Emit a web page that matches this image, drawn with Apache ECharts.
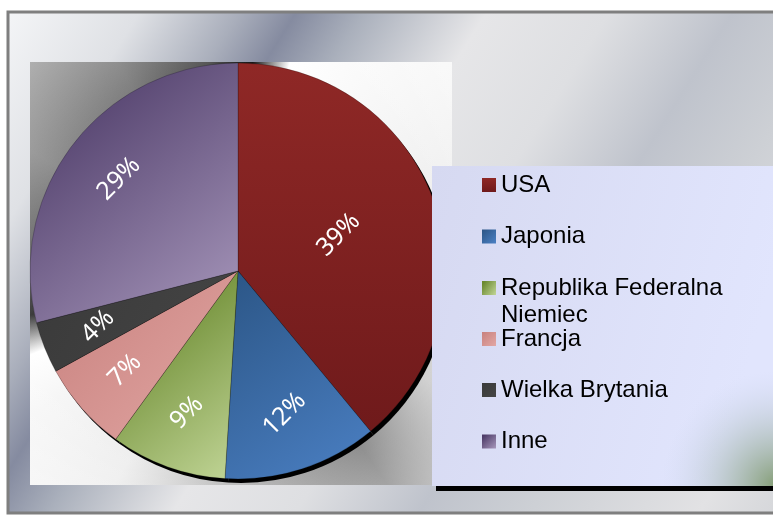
<!DOCTYPE html>
<html><head><meta charset="utf-8">
<script src="https://cdn.jsdelivr.net/npm/echarts@6/dist/echarts.min.js"></script>
<style>html,body{margin:0;padding:0;background:#fff}#c{width:773px;height:516px}</style>
</head><body><div id="c"></div>
<script>
// ---- data ----
const categories = ['USA', 'Japonia', 'Republika Federalna Niemiec', 'Francja', 'Wielka Brytania', 'Inne'];
const values = [39, 12, 9, 7, 4, 29];
const legendText = ['USA', 'Japonia', '\nRepublika Federalna\nNiemiec', 'Francja', 'Wielka Brytania', 'Inne'];

// ---- styles ----
const sliceColors = [
  ['#8f2826', '#6f1a1b', 0, 0, 0, 1],
  ['#2b5585', '#4b80c4', 0, 0, 1, 1],
  ['#6b8a30', '#c2d698', 0, 0.3, 1, 1],
  ['#c8817e', '#e2a7a4', 0, 0, 1, 1],
  ['#3a3a3a', '#454545', 0, 0, 1, 1],
  ['#4d3b68', '#a898bc', 0.1, 0.1, 1, 1]
];
function grad(c) {
  return new echarts.graphic.LinearGradient(c[2], c[3], c[4], c[5], [
    {offset: 0, color: c[0]}, {offset: 1, color: c[1]}]);
}
const legendCenters = [185, 236.5, 288, 339, 390, 441.5];

const cx = 238, cy = 271, R = 208;

// chrome-like background for plot area
function chromeCanvas() {
  const cv = document.createElement('canvas');
  cv.width = 773; cv.height = 516;
  const ctx = cv.getContext('2d');
  if (ctx.createConicGradient) {
    const g = ctx.createConicGradient(0, cx, cy);
    const st = [
      [0, '#e6e6e6'], [30, '#cfcfcf'], [55, '#8c8c8c'], [75, '#a8a8a8'], [95, '#c2c2c2'],
      [120, '#eeeeee'], [145, '#f6f6f6'], [158, '#ffffff'], [168, '#3a3a3a'], [180, '#6a6a6a'],
      [210, '#8e8e8e'], [240, '#7e7e7e'], [262, '#555555'], [274, '#151515'], [284, '#ffffff'],
      [315, '#f6f6f6'], [345, '#ededed'], [360, '#e6e6e6']
    ];
    st.forEach(s => g.addColorStop(s[0] / 360, s[1]));
    ctx.fillStyle = g;
  } else {
    ctx.fillStyle = '#c8c8c8';
  }
  ctx.fillRect(0, 0, 773, 516);
  const rg = ctx.createRadialGradient(cx, cy, R, cx, cy, R + 140);
  rg.addColorStop(0, 'rgba(255,255,255,0)');
  rg.addColorStop(1, 'rgba(255,255,255,0.55)');
  ctx.fillStyle = rg;
  ctx.fillRect(0, 0, 773, 516);
  return cv;
}

const chart = echarts.init(document.getElementById('c'), null, {renderer: 'canvas'});

const mainData = categories.map((n, i) => ({
  name: n, value: values[i],
  itemStyle: {color: grad(sliceColors[i])},
  label: {show: i === 0}
}));
const shadowData = categories.map((n, i) => ({name: n, value: values[i]}));
const labelData = categories.map((n, i) => ({
  name: n, value: values[i],
  label: {show: i !== 0}
}));

const labelStyle = {
  position: 'inside', rotate: 45, color: '#ffffff', fontSize: 25,
  fontFamily: 'Noto Sans', fontWeight: 'normal',
  formatter: p => p.value + '%'
};

const legends = categories.map((n, i) => ({
  data: [n],
  orient: 'vertical',
  left: 482,
  top: legendCenters[i] - (i === 2 ? 40.5 : 13.5),
  padding: 0,
  icon: 'rect',
  itemWidth: 14, itemHeight: 14,
  itemStyle: {borderWidth: 0},
  selectedMode: false,
  z: 20,
  formatter: () => legendText[i],
  textStyle: {fontSize: 24, lineHeight: 27, color: '#000', fontFamily: 'Liberation Sans'}
}));

chart.setOption({
  animation: false,
  graphic: [
    {type: 'rect', z: -10, shape: {x: 8, y: 12, width: 800, height: 501},
      style: {
        fill: new echarts.graphic.LinearGradient(0, 0, 1, 1, [
          {offset: 0, color: '#f4f5f7'}, {offset: 0.12, color: '#dfe1e5'},
          {offset: 0.21, color: '#a9aebb'}, {offset: 0.26, color: '#858ba0'},
          {offset: 0.32, color: '#aab0bc'}, {offset: 0.43, color: '#e6e6e8'},
          {offset: 0.54, color: '#dedfe2'}, {offset: 0.65, color: '#bfc3cc'},
          {offset: 0.75, color: '#cdd0d5'}, {offset: 0.9, color: '#e2e2e4'},
          {offset: 1, color: '#d0d2d6'}]),
        stroke: '#7f7f7f', lineWidth: 3
      }},
    {type: 'rect', z: -9, shape: {x: 30, y: 62, width: 422, height: 423},
      style: {fill: {image: chromeCanvas(), repeat: 'no-repeat'}}},
    {type: 'rect', z: 10, shape: {x: 432, y: 166, width: 345, height: 320},
      style: {
        fill: new echarts.graphic.LinearGradient(0, 0, 1, 0.3, [
          {offset: 0, color: '#d6d9f1'}, {offset: 1, color: '#e1e5fd'}]),
        shadowColor: '#000', shadowOffsetX: 4, shadowOffsetY: 5, shadowBlur: 0
      }},
    {type: 'rect', z: 11, shape: {x: 432, y: 166, width: 345, height: 320},
      style: {
        fill: new echarts.graphic.RadialGradient(1, 1, 0.36, [
          {offset: 0, color: 'rgba(120,148,100,0.9)'}, {offset: 1, color: 'rgba(200,210,235,0)'}])
      }}
  ],
  legend: legends,
  series: [
    {
      type: 'pie', name: 'main', z: 3,
      center: [cx, cy], radius: R,
      startAngle: 90, clockwise: true,
      avoidLabelOverlap: false,
      silent: true,
      itemStyle: {borderColor: 'rgba(0,0,0,0.35)', borderWidth: 0.6},
      label: labelStyle,
      labelLine: {show: false},
      data: mainData
    },
    {
      type: 'pie', name: 'shadow', z: 2,
      center: [cx + 3, cy + 4], radius: R,
      startAngle: 90, silent: true,
      itemStyle: {color: '#000'},
      label: {show: false}, labelLine: {show: false},
      data: shadowData
    },
    {
      type: 'pie', name: 'labels', z: 4,
      center: [cx, cy], radius: [R * 0.42, R],
      startAngle: 90, silent: true,
      avoidLabelOverlap: false,
      itemStyle: {color: 'rgba(0,0,0,0)'},
      label: labelStyle,
      labelLine: {show: false},
      data: labelData
    }
  ]
});
</script></body></html>
